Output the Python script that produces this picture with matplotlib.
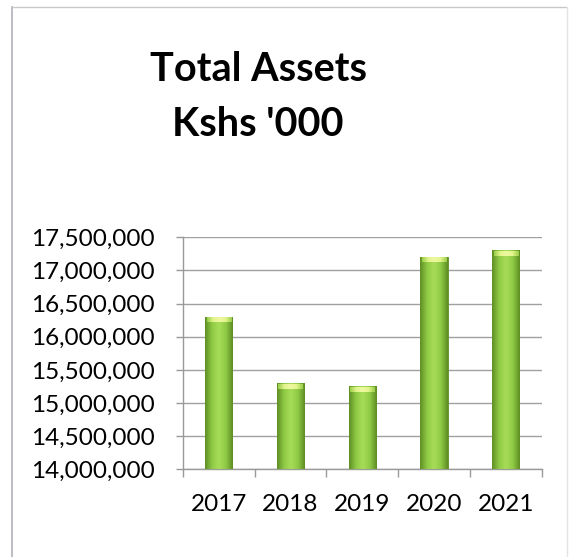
import matplotlib.pyplot as plt
import numpy as np
from matplotlib.colors import LinearSegmentedColormap
from matplotlib.lines import Line2D
from matplotlib.ticker import FuncFormatter

# Daten
years = ['2017', '2018', '2019', '2020', '2021']
assets = [16300000, 15300000, 15250000, 17210000, 17310000]
y_ticks = [14000000, 14500000, 15000000, 15500000, 16000000, 16500000, 17000000, 17500000]

plt.rcParams['font.family'] = ['Lato', 'DejaVu Sans']

fig = plt.figure(figsize=(5.71, 5.57), dpi=100)
ax = fig.add_axes([0.320, 0.1574, 0.6287, 0.4166])

x = np.arange(len(years))
bar_w = 0.38
bars = ax.bar(x, [a - y_ticks[0] for a in assets], width=bar_w, bottom=y_ticks[0],
              color='#8cc63f', edgecolor='#5e8a22', linewidth=0.6, zorder=3)

# Verlauf in den Balken (heller in der Mitte, dunkler am Rand)
green = LinearSegmentedColormap.from_list('g', ['#5f8f24', '#8fcb45', '#a8dc58', '#8fcb45', '#5f8f24'])
capmap = LinearSegmentedColormap.from_list('c', ['#9ccf4a', '#e2f48c', '#eef8a0', '#e2f48c', '#9ccf4a'])
grad = np.linspace(0, 1, 64).reshape(1, -1)
for b in bars:
    bx, by = b.get_x(), b.get_y()
    top = by + b.get_height()
    im = ax.imshow(grad, cmap=green, aspect='auto', zorder=3.5,
                   extent=[bx, bx + b.get_width(), by, top])
    im.set_clip_path(b)
    # helle Kappe oben
    cap_h = 85000
    ax.imshow(grad, cmap=capmap, aspect='auto', zorder=4,
              extent=[bx + b.get_width() * 0.06, bx + b.get_width() * 0.94, top - cap_h, top - 15000])

ax.set_xlim(-0.5, len(years) - 0.5)
ax.set_ylim(y_ticks[0], y_ticks[-1])
ax.set_yticks(y_ticks)
ax.yaxis.set_major_formatter(FuncFormatter(lambda v, p: f'{int(v):,}'))
ax.set_xticks(x)
ax.set_xticklabels(years)
ax.set_xticks(np.arange(-0.5, len(years)), minor=True)

ax.tick_params(axis='x', which='major', length=0, pad=18, labelsize=17.5, colors='#000000')
ax.tick_params(axis='x', which='minor', length=6, color='#999999', width=1)
ax.tick_params(axis='y', length=5, color='#999999', width=1, pad=15, labelsize=17.5, colors='#000000')
ax.tick_params(axis='x', colors='#999999', which='both', labelcolor='#000000')
ax.tick_params(axis='y', colors='#999999', labelcolor='#000000')

ax.grid(axis='y', color='#a0a0a0', linewidth=1, zorder=0)
for s in ['top', 'right']:
    ax.spines[s].set_visible(False)
for s in ['left', 'bottom']:
    ax.spines[s].set_color('#999999')
    ax.spines[s].set_linewidth(1)

fig.text(0.452, 0.825, "Total Assets\nKshs '000", ha='center', va='center',
         fontsize=28.5, fontweight='bold', linespacing=1.6, color='#000000')

# Rahmen
fig.add_artist(Line2D([12 / 571, 12 / 571], [0, 1 - 7 / 557], color='#b0b0b8', lw=1.2))
fig.add_artist(Line2D([12 / 571, 566 / 571], [1 - 7 / 557, 1 - 7 / 557], color='#c8c8cc', lw=1.0))
fig.add_artist(Line2D([567 / 571, 567 / 571], [0, 1 - 7 / 557], color='#e4e4e6', lw=1.0))

fig.savefig('out.png', dpi=100)
